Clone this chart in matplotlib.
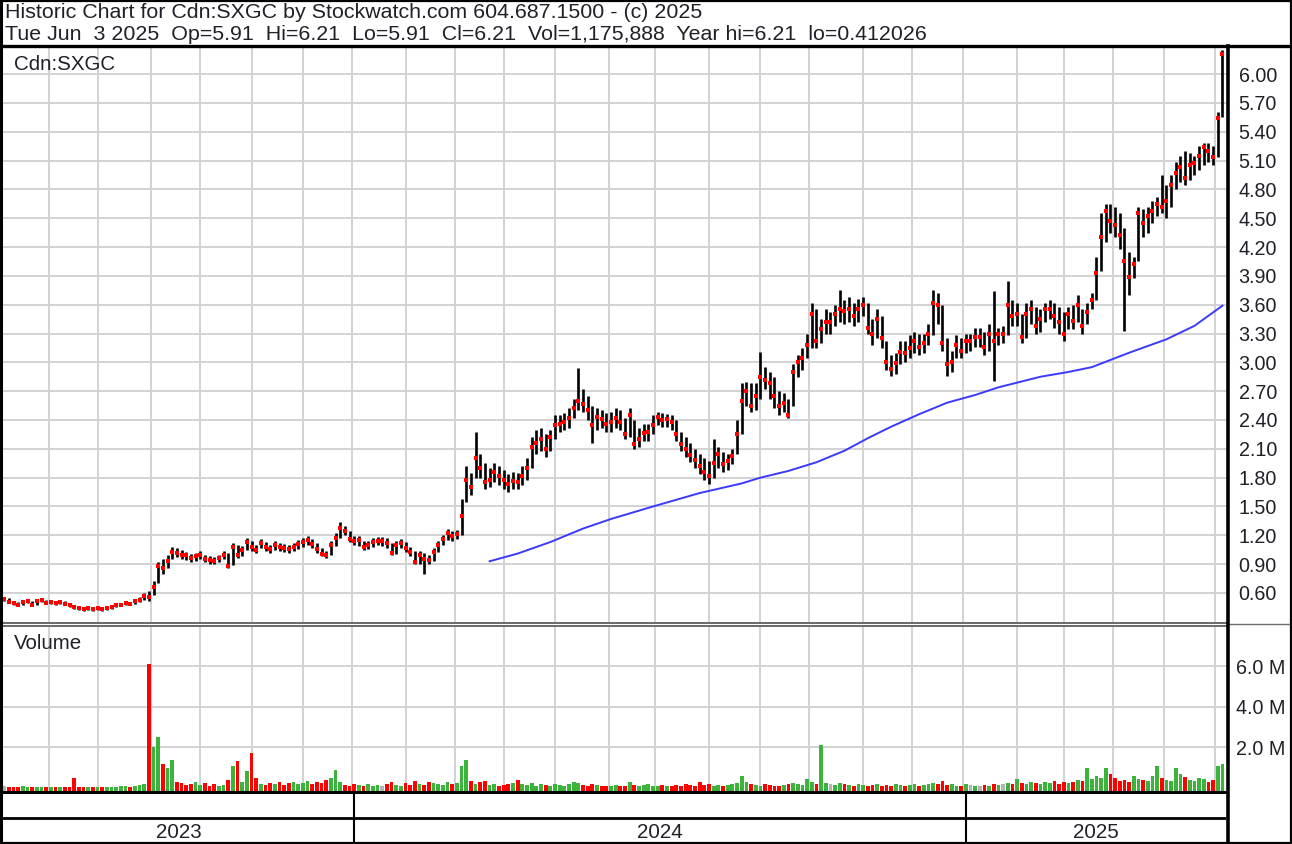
import numpy as np
import pandas as pd
import matplotlib
matplotlib.use("Agg")
import matplotlib.pyplot as plt

plt.rcParams['font.family'] = ['Liberation Sans', 'DejaVu Sans']

W, H = 1292, 844

title1 = "Historic Chart for Cdn:SXGC by Stockwatch.com 604.687.1500 - (c) 2025"
title2 = "Tue Jun  3 2025  Op=5.91  Hi=6.21  Lo=5.91  Cl=6.21  Vol=1,175,888  Year hi=6.21  lo=0.412026"
symbol = "Cdn:SXGC"

# one bar = two trading days, Jun 2023 .. Jun 3 2025
close = [0.54, 0.51, 0.50, 0.48, 0.51, 0.52, 0.47, 0.52, 0.53, 0.50,
         0.51, 0.50, 0.51, 0.49, 0.47, 0.45, 0.44, 0.43, 0.44, 0.43,
         0.44, 0.43, 0.44, 0.45, 0.47, 0.48, 0.50, 0.49, 0.52, 0.53,
         0.57, 0.56, 0.66, 0.88, 0.86, 0.93, 1.03, 1.02, 1.00, 0.99,
         0.96, 0.98, 1.00, 0.95, 0.94, 0.93, 0.96, 1.00, 0.88, 1.08,
         0.99, 1.05, 1.13, 1.08, 1.05, 1.12, 1.08, 1.06, 1.10, 1.08,
         1.07, 1.06, 1.08, 1.11, 1.13, 1.15, 1.11, 1.06, 1.01, 1.00,
         1.10, 1.17, 1.28, 1.24, 1.16, 1.14, 1.15, 1.08, 1.10, 1.13,
         1.14, 1.14, 1.12, 1.02, 1.10, 1.12, 1.07, 1.03, 0.92, 0.99,
         0.95, 0.94, 1.03, 1.10, 1.16, 1.22, 1.19, 1.21, 1.40, 1.78,
         1.70, 2.00, 1.90, 1.76, 1.78, 1.86, 1.82, 1.78, 1.73, 1.77,
         1.75, 1.82, 1.90, 2.12, 2.16, 2.20, 2.10, 2.22, 2.35, 2.36,
         2.38, 2.42, 2.53, 2.60, 2.57, 2.50, 2.35, 2.43, 2.41, 2.36,
         2.38, 2.42, 2.38, 2.25, 2.45, 2.15, 2.20, 2.26, 2.27, 2.35,
         2.43, 2.40, 2.41, 2.38, 2.25, 2.15, 2.10, 2.04, 1.98, 1.92,
         1.86, 1.82, 1.95, 2.05, 1.94, 1.97, 2.03, 2.25, 2.60, 2.70,
         2.55, 2.65, 2.85, 2.82, 2.78, 2.65, 2.55, 2.58, 2.45, 2.90,
         3.00, 3.05, 3.18, 3.50, 3.22, 3.35, 3.42, 3.42, 3.50, 3.56,
         3.53, 3.55, 3.48, 3.56, 3.60, 3.36, 3.29, 3.45, 3.25, 3.00,
         2.93, 2.99, 3.11, 3.10, 3.15, 3.22, 3.16, 3.20, 3.30, 3.62,
         3.60, 3.20, 2.98, 3.00, 3.18, 3.12, 3.22, 3.22, 3.26, 3.26,
         3.16, 3.30, 3.22, 3.29, 3.29, 3.60, 3.48, 3.50, 3.26, 3.50,
         3.55, 3.38, 3.45, 3.55, 3.56, 3.48, 3.42, 3.30, 3.50, 3.43,
         3.60, 3.38, 3.52, 3.65, 3.93, 4.30, 4.58, 4.47, 4.43, 4.33,
         4.05, 3.89, 4.02, 4.55, 4.45, 4.52, 4.58, 4.65, 4.62, 4.68,
         4.85, 4.97, 5.03, 4.92, 5.05, 5.07, 5.15, 5.24, 5.20, 5.14,
         5.54, 6.21]

high = [0.56, 0.55, 0.52, 0.51, 0.53, 0.54, 0.52, 0.54, 0.55, 0.53,
        0.53, 0.52, 0.53, 0.52, 0.49, 0.47, 0.46, 0.45, 0.46, 0.45,
        0.46, 0.45, 0.46, 0.47, 0.49, 0.50, 0.52, 0.51, 0.54, 0.56,
        0.60, 0.62, 0.72, 0.92, 0.95, 1.00, 1.08, 1.07, 1.05, 1.03,
        1.01, 1.02, 1.04, 1.00, 0.98, 0.97, 1.00, 1.04, 1.02, 1.12,
        1.10, 1.09, 1.17, 1.14, 1.10, 1.16, 1.13, 1.10, 1.14, 1.12,
        1.11, 1.10, 1.12, 1.15, 1.17, 1.19, 1.16, 1.12, 1.07, 1.04,
        1.14, 1.22, 1.34, 1.30, 1.24, 1.19, 1.19, 1.14, 1.14, 1.17,
        1.18, 1.18, 1.17, 1.12, 1.14, 1.16, 1.13, 1.08, 1.04, 1.04,
        1.02, 1.00, 1.07, 1.14, 1.20, 1.27, 1.25, 1.26, 1.58, 1.92,
        1.85, 2.27, 2.05, 1.95, 1.90, 1.95, 1.92, 1.88, 1.84, 1.86,
        1.85, 1.92, 2.00, 2.22, 2.30, 2.32, 2.25, 2.30, 2.45, 2.45,
        2.47, 2.52, 2.62, 2.94, 2.72, 2.65, 2.55, 2.53, 2.50, 2.47,
        2.48, 2.52, 2.50, 2.42, 2.52, 2.40, 2.32, 2.36, 2.36, 2.45,
        2.48, 2.47, 2.46, 2.45, 2.40, 2.28, 2.22, 2.16, 2.10, 2.05,
        2.00, 1.97, 2.20, 2.12, 2.07, 2.05, 2.10, 2.40, 2.78, 2.80,
        2.78, 2.78, 3.11, 2.95, 2.90, 2.85, 2.70, 2.68, 2.62, 2.98,
        3.08, 3.15, 3.30, 3.62, 3.55, 3.45, 3.55, 3.52, 3.60, 3.75,
        3.65, 3.68, 3.62, 3.66, 3.68, 3.62, 3.45, 3.55, 3.48, 3.22,
        3.08, 3.10, 3.22, 3.22, 3.28, 3.32, 3.30, 3.30, 3.40, 3.75,
        3.72, 3.60, 3.25, 3.12, 3.28, 3.25, 3.30, 3.30, 3.36, 3.36,
        3.32, 3.40, 3.74, 3.36, 3.38, 3.85, 3.65, 3.62, 3.50, 3.62,
        3.65, 3.58, 3.55, 3.62, 3.65, 3.62, 3.58, 3.52, 3.58, 3.60,
        3.70, 3.55, 3.62, 3.72, 4.10, 4.55, 4.65, 4.65, 4.62, 4.55,
        4.40, 4.15, 4.10, 4.62, 4.60, 4.62, 4.68, 4.72, 4.95, 4.85,
        4.95, 5.08, 5.15, 5.20, 5.18, 5.15, 5.25, 5.28, 5.28, 5.25,
        5.60, 6.25]

low = [0.52, 0.50, 0.48, 0.47, 0.48, 0.50, 0.46, 0.48, 0.51, 0.49,
       0.49, 0.48, 0.49, 0.47, 0.45, 0.43, 0.42, 0.41, 0.42, 0.41,
       0.42, 0.41, 0.42, 0.43, 0.45, 0.46, 0.48, 0.47, 0.49, 0.51,
       0.53, 0.52, 0.58, 0.70, 0.80, 0.86, 0.95, 0.97, 0.95, 0.94,
       0.92, 0.93, 0.95, 0.92, 0.90, 0.90, 0.92, 0.95, 0.86, 0.89,
       0.96, 0.98, 1.05, 1.04, 1.02, 1.07, 1.04, 1.02, 1.05, 1.04,
       1.03, 1.02, 1.04, 1.06, 1.08, 1.10, 1.07, 1.02, 0.98, 0.96,
       1.00, 1.09, 1.17, 1.20, 1.13, 1.10, 1.09, 1.05, 1.06, 1.08,
       1.10, 1.09, 1.07, 0.99, 1.01, 1.07, 1.03, 0.98, 0.90, 0.90,
       0.80, 0.90, 0.93, 1.03, 1.10, 1.15, 1.14, 1.16, 1.20, 1.55,
       1.62, 1.80, 1.80, 1.68, 1.70, 1.76, 1.72, 1.68, 1.65, 1.68,
       1.68, 1.72, 1.78, 1.90, 2.05, 2.08, 2.02, 2.08, 2.20, 2.28,
       2.30, 2.32, 2.42, 2.50, 2.48, 2.40, 2.16, 2.30, 2.32, 2.28,
       2.28, 2.32, 2.30, 2.20, 2.22, 2.10, 2.12, 2.18, 2.18, 2.25,
       2.35, 2.33, 2.33, 2.30, 2.18, 2.08, 2.02, 1.96, 1.90, 1.84,
       1.78, 1.73, 1.80, 1.90, 1.86, 1.88, 1.94, 2.05, 2.25, 2.55,
       2.48, 2.50, 2.62, 2.72, 2.62, 2.52, 2.45, 2.48, 2.42, 2.55,
       2.85, 2.92, 3.05, 3.15, 3.15, 3.20, 3.30, 3.30, 3.38, 3.42,
       3.40, 3.42, 3.38, 3.42, 3.48, 3.30, 3.18, 3.25, 3.15, 2.92,
       2.86, 2.88, 2.98, 3.00, 3.04, 3.10, 3.08, 3.10, 3.18, 3.28,
       3.40, 3.12, 2.86, 2.90, 3.05, 3.04, 3.10, 3.12, 3.16, 3.16,
       3.08, 3.12, 2.81, 3.18, 3.20, 3.28, 3.38, 3.38, 3.20, 3.25,
       3.40, 3.30, 3.32, 3.42, 3.45, 3.36, 3.30, 3.22, 3.35, 3.35,
       3.42, 3.30, 3.40, 3.55, 3.65, 3.95, 4.25, 4.35, 4.30, 4.18,
       3.33, 3.70, 3.88, 4.05, 4.30, 4.35, 4.45, 4.52, 4.55, 4.50,
       4.62, 4.80, 4.88, 4.85, 4.90, 4.95, 5.00, 5.05, 5.08, 5.05,
       5.14, 5.55]

# volume in millions of shares
volume = [0.08, 0.05, 0.06, 0.04, 0.10, 0.05, 0.04, 0.07, 0.05, 0.03,
          0.06, 0.04, 0.05, 0.03, 0.04, 0.50, 0.06, 0.05, 0.04, 0.03,
          0.05, 0.04, 0.06, 0.07, 0.05, 0.08, 0.10, 0.06, 0.12, 0.15,
          0.20, 6.10, 2.00, 2.50, 1.20, 1.00, 1.40, 0.30, 0.25, 0.15,
          0.20, 0.30, 0.15, 0.25, 0.12, 0.20, 0.10, 0.15, 0.40, 1.10,
          1.35, 0.30, 0.85, 1.70, 0.50, 0.20, 0.15, 0.25, 0.20, 0.30,
          0.15, 0.25, 0.30, 0.20, 0.25, 0.35, 0.20, 0.30, 0.25, 0.40,
          0.50, 0.90, 0.30, 0.15, 0.10, 0.20, 0.15, 0.10, 0.20, 0.12,
          0.15, 0.10, 0.20, 0.30, 0.15, 0.10, 0.25, 0.15, 0.35, 0.20,
          0.15, 0.30, 0.25, 0.20, 0.15, 0.30, 0.20, 0.25, 1.10, 1.40,
          0.35, 0.20, 0.30, 0.35, 0.15, 0.20, 0.10, 0.15, 0.20, 0.25,
          0.40, 0.20, 0.15, 0.25, 0.10, 0.20, 0.15, 0.10, 0.20, 0.15,
          0.10, 0.20, 0.30, 0.25, 0.15, 0.10, 0.20, 0.15, 0.10, 0.12,
          0.10, 0.15, 0.12, 0.10, 0.30, 0.15, 0.10, 0.15, 0.20, 0.12,
          0.10, 0.15, 0.10, 0.12, 0.15, 0.10, 0.20, 0.15, 0.12, 0.30,
          0.15, 0.20, 0.12, 0.15, 0.10, 0.15, 0.20, 0.25, 0.60, 0.30,
          0.20, 0.15, 0.12, 0.20, 0.15, 0.10, 0.12, 0.15, 0.20, 0.25,
          0.20, 0.15, 0.45, 0.30, 0.20, 2.10, 0.25, 0.20, 0.15, 0.25,
          0.20, 0.15, 0.12, 0.20, 0.15, 0.10, 0.15, 0.20, 0.12, 0.15,
          0.10, 0.20, 0.15, 0.12, 0.15, 0.20, 0.10, 0.15, 0.20, 0.25,
          0.20, 0.35, 0.15, 0.20, 0.12, 0.10, 0.20, 0.15, 0.12, 0.10,
          0.15, 0.12, 0.20, 0.15, 0.20, 0.25, 0.20, 0.45, 0.25, 0.20,
          0.30, 0.25, 0.20, 0.30, 0.25, 0.35, 0.20, 0.30, 0.25, 0.30,
          0.40, 0.35, 1.00, 0.45, 0.60, 0.50, 1.00, 0.70, 0.50, 0.35,
          0.40, 0.30, 0.60, 0.45, 0.40, 0.35, 0.60, 1.10, 0.50, 0.40,
          0.35, 1.00, 0.70, 0.55, 0.40, 0.35, 0.50, 0.45, 0.30, 0.40,
          1.10, 1.18]

# 200-day moving average (bar number, price)
ma_bar = [104, 110, 117, 124, 130, 139, 149, 158, 162, 168, 174, 180, 185,
          190, 196, 202, 208, 213, 222, 228, 233, 241, 249, 255, 261]
ma_val = [0.93, 1.01, 1.13, 1.27, 1.37, 1.50, 1.64, 1.74, 1.80, 1.87, 1.96,
          2.08, 2.21, 2.33, 2.46, 2.58, 2.66, 2.74, 2.85, 2.90, 2.95, 3.10,
          3.24, 3.38, 3.59]

price_ticks = [0.60, 0.90, 1.20, 1.50, 1.80, 2.10, 2.40, 2.70, 3.00, 3.30,
               3.60, 3.90, 4.20, 4.50, 4.80, 5.10, 5.40, 5.70, 6.00]
vol_ticks = [2.0, 4.0, 6.0]
years = ["2023", "2024", "2025"]

# trading-day axis
days = pd.bdate_range("2023-06-01", "2025-06-03")
bar_pos = np.arange(len(days))[1::2][-len(close):]
month_pos = [i - 2 for i in range(1, len(days)) if days[i].month != days[i - 1].month]
year_pos = [i - 1 for i in range(1, len(days)) if days[i].year != days[i - 1].year]
xmin, xmax = 0.5, len(days) + 0.5

close_a = np.array(close)
chg = np.diff(close_a, prepend=close_a[0])
vcolors = np.where(chg > 0, "#3cb43c", np.where(chg < 0, "#ff0000", "#b4b4b4"))

fig = plt.figure(figsize=(W / 100, H / 100), dpi=100)


def ax_px(x0, y0, x1, y1, **kw):
    return fig.add_axes([x0 / W, 1 - y1 / H, (x1 - x0) / W, (y1 - y0) / H], **kw)


grid_c = "#d2d2d2"
txt_c = "#202028"
fs = 14.8
fs_tick = 14.2

# price panel
ax = ax_px(3, 48, 1226, 622)
ax.set_xlim(xmin, xmax)
ax.set_ylim(0.298, 6.271)
ax.set_xticks(month_pos)
ax.set_xticklabels([])
ax.set_yticks(price_ticks)
ax.set_yticklabels(["%.2f" % t for t in price_ticks], color=txt_c, fontsize=fs_tick)
ax.yaxis.tick_right()
ax.tick_params(length=0, pad=9)
ax.tick_params(axis="x", length=0)
ax.grid(True, color=grid_c, lw=1.4)
ax.set_axisbelow(True)
for s in ax.spines.values():
    s.set_visible(False)
ax.vlines(bar_pos, low, high, color="black", lw=1.9)
ax.plot(bar_pos, close, "s", color="red", ms=2.5, mew=0)
ax.plot(bar_pos[ma_bar], ma_val, color="#3a3aff", lw=1.4)
ax.text(0.009, 0.972, symbol, transform=ax.transAxes, fontsize=fs,
        color=txt_c, va="center", ha="left")

# volume panel
axv = ax_px(3, 627, 1226, 792)
axv.set_xlim(xmin, xmax)
axv.set_ylim(-0.2, 7.93)
axv.set_xticks(month_pos)
axv.set_xticklabels([])
axv.set_yticks(vol_ticks)
axv.set_yticklabels(["%.1f M" % t for t in vol_ticks], color=txt_c, fontsize=fs_tick)
axv.yaxis.tick_right()
axv.tick_params(length=0, pad=7)
axv.grid(True, color=grid_c, lw=1.4)
axv.set_axisbelow(True)
for s in axv.spines.values():
    s.set_visible(False)
axv.bar(bar_pos, np.array(volume) + 0.2, bottom=-0.2, width=1.6,
        color=vcolors, lw=0)
axv.text(0.009, 0.9, "Volume", transform=axv.transAxes, fontsize=fs,
         color=txt_c, va="center", ha="left")

# date rows
axd = ax_px(3, 793, 1226, 843)
axd.set_xlim(xmin, xmax)
axd.set_ylim(0, 1)
axd.axis("off")
axd.axhline(0.5, color="black", lw=2)
for p in year_pos:
    axd.axvline(p, color="black", lw=1.5)
edges = [xmin] + year_pos + [xmax]
for i, y in enumerate(years):
    axd.text((edges[i] + edges[i + 1]) / 2, 0.22, y, ha="center", va="center",
             fontsize=fs, color=txt_c)

# frame lines and header
fr = ax_px(0, 0, W, H)
fr.set_xlim(0, W)
fr.set_ylim(H, 0)
fr.axis("off")
fr.patch.set_alpha(0)
fr.text(5, 13, title1, fontsize=fs + 0.6, color=txt_c, va="center", ha="left")
fr.text(5, 35, title2, fontsize=fs + 0.6, color=txt_c, va="center", ha="left")
fr.plot([0, W], [46, 46], color="black", lw=2.4)
fr.plot([0, 1227], [622.5, 622.5], color="#505050", lw=1.2)
fr.plot([0, 1227], [625.5, 625.5], color="#505050", lw=1.2)
fr.plot([1227, W], [624, 624], color="#707070", lw=1.0)
fr.plot([0, 1227], [792, 792], color="black", lw=2.2)
fr.plot([1227.5, 1227.5], [46, H], color="black", lw=2.6)
fr.plot([1, 1], [0, H], color="black", lw=2.2)
fr.plot([W - 1, W - 1], [0, H], color="black", lw=1.6)
fr.plot([0, W], [1, 1], color="black", lw=1.6)
fr.plot([0, W], [H - 1, H - 1], color="black", lw=1.6)

fig.savefig("out.png", dpi=100)
